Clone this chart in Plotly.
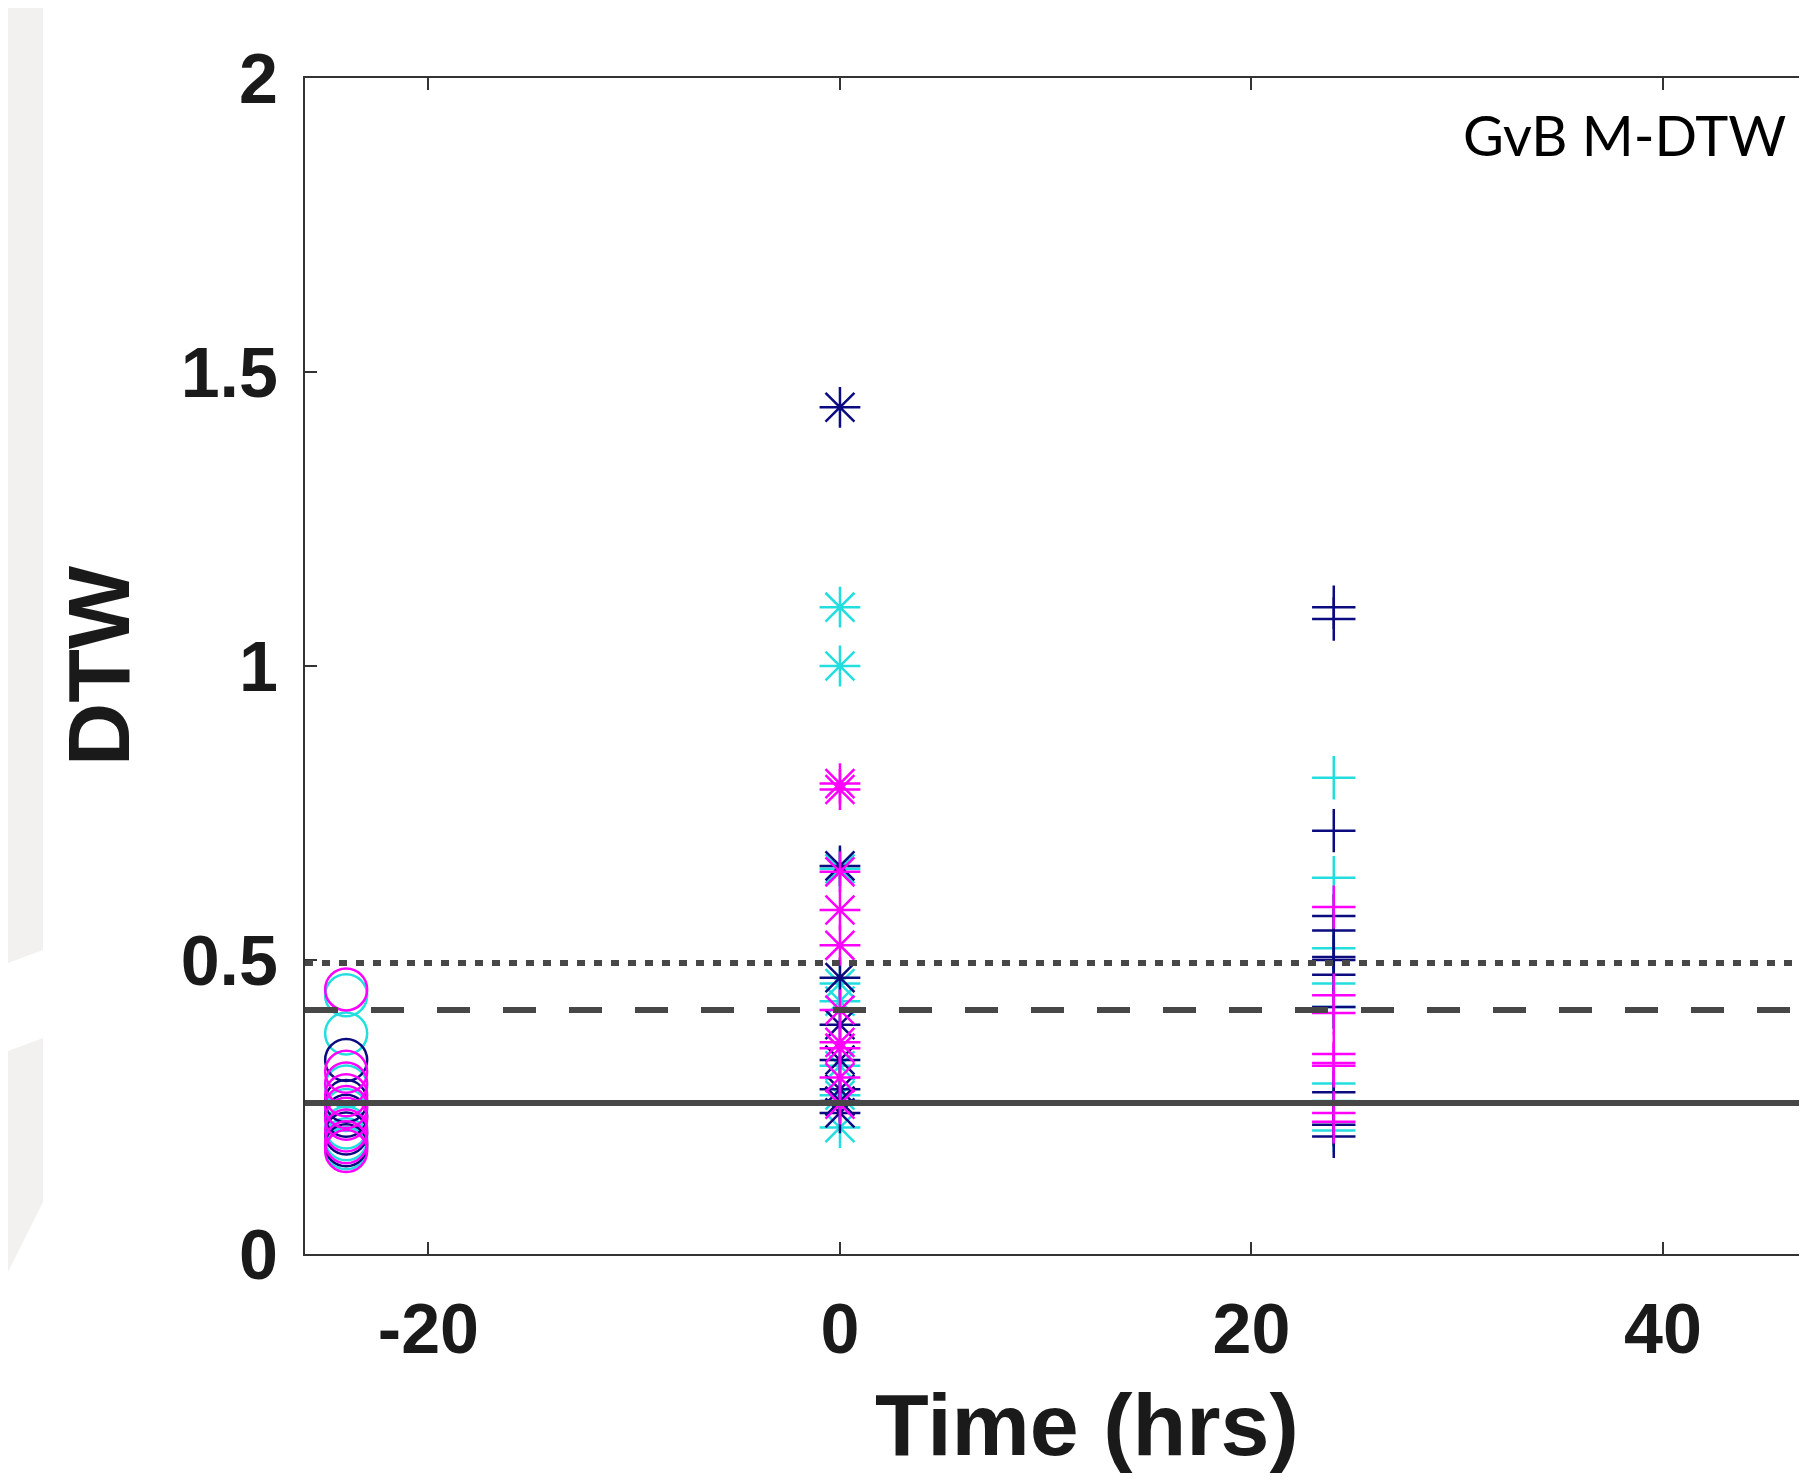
import plotly.graph_objects as go

# ---- data ----
time_points = [-24, 0, 24]          # hrs: baseline (circles), 0 h (stars), 24 h (pluses)

circ_magenta = [0.45, 0.31, 0.29, 0.27, 0.25, 0.23, 0.21, 0.19, 0.175]
circ_cyan    = [0.44, 0.375, 0.285, 0.245, 0.215, 0.195, 0.18]
circ_navy    = [0.33, 0.26, 0.235, 0.205, 0.185]

star_cyan    = [1.10, 1.00, 0.655, 0.46, 0.43, 0.32, 0.27, 0.215]
star_navy    = [1.44, 0.66, 0.47, 0.39, 0.33, 0.28, 0.26, 0.24]
star_magenta = [0.80, 0.79, 0.65, 0.585, 0.525, 0.415, 0.36, 0.35, 0.30, 0.255]

plus_cyan    = [0.81, 0.64, 0.52, 0.46, 0.42, 0.29, 0.26, 0.21]
plus_navy    = [1.10, 1.08, 0.72, 0.575, 0.55, 0.505, 0.50, 0.475, 0.42, 0.275, 0.255, 0.22, 0.20]
plus_magenta = [0.59, 0.44, 0.41, 0.34, 0.325, 0.32, 0.24, 0.225]

threshold_dotted = 0.495
threshold_dashed = 0.415
threshold_solid = 0.257

x_ticks = [-20, 0, 20, 40]
y_ticks = [0, 0.5, 1, 1.5, 2]
y_tick_text = ["0", "0.5", "1", "1.5", "2"]

MAGENTA = "#ff00ff"
CYAN = "#22dede"
NAVY = "#0b0b80"

fig = go.Figure()

def add_group(x, values, color, symbol, size):
    fig.add_trace(go.Scatter(
        x=[x] * len(values), y=values, mode="markers",
        marker=dict(symbol=symbol, size=size, color=color,
                    line=dict(color=color, width=2.5)),
        showlegend=False, hoverinfo="y"))

add_group(time_points[0], circ_cyan, CYAN, "circle-open", 42)
add_group(time_points[0], circ_navy, NAVY, "circle-open", 42)
add_group(time_points[0], circ_magenta, MAGENTA, "circle-open", 42)

add_group(time_points[1], star_cyan, CYAN, "asterisk-open", 34)
add_group(time_points[1], star_navy, NAVY, "asterisk-open", 34)
add_group(time_points[1], star_magenta, MAGENTA, "asterisk-open", 34)

add_group(time_points[2], plus_cyan, CYAN, "cross-thin-open", 31)
add_group(time_points[2], plus_navy, NAVY, "cross-thin-open", 31)
add_group(time_points[2], plus_magenta, MAGENTA, "cross-thin-open", 31)

# ---- layout geometry (pixels); the page body adds an 8px offset ----
OFF = 8
W, H = 1807 - OFF, 1479 - OFF
ML, MT = 305 - OFF, 78 - OFF
PLOT_BOTTOM = 1254 - OFF
MR, MB = 0, H - PLOT_BOTTOM
pw = W - ML - MR
ph = H - MT - MB

def px_x(px):   # screen pixel -> paper x
    return (px - OFF - ML) / pw

def px_y(py):   # screen pixel -> paper y
    return (PLOT_BOTTOM - (py - OFF)) / ph

LINE_COL = "#474747"
shapes = [
    dict(type="line", xref="paper", yref="y", x0=0, x1=1,
         y0=threshold_dotted, y1=threshold_dotted,
         line=dict(color=LINE_COL, width=6, dash="8px,9px")),
    dict(type="line", xref="paper", yref="y", x0=0, x1=1,
         y0=threshold_dashed, y1=threshold_dashed,
         line=dict(color=LINE_COL, width=6, dash="33px,33px")),
    dict(type="line", xref="paper", yref="y", x0=0, x1=1,
         y0=threshold_solid, y1=threshold_solid,
         line=dict(color=LINE_COL, width=6)),
]

# grey background band on the far left of the slide
band1 = [(OFF, OFF), (43, OFF), (43, 950), (OFF, 963)]
band2 = [(OFF, 1051), (43, 1038), (43, 1202), (OFF, 1272)]
for poly in (band1, band2):
    path = "M " + " L ".join(f"{px_x(a):.5f},{px_y(b):.5f}" for a, b in poly) + " Z"
    shapes.append(dict(type="path", xref="paper", yref="paper", path=path,
                       fillcolor="#f2f1ef", line=dict(width=0), layer="below"))

FAM = "Liberation Sans, Arial, sans-serif"
TICKFONT = dict(family=FAM, size=70, color="#1a1a1a", weight="bold")
TITLEFONT = dict(family=FAM, size=88, color="#1a1a1a", weight="bold")

fig.update_layout(
    width=W, height=H,
    margin=dict(l=ML, r=MR, t=MT, b=MB, pad=0),
    paper_bgcolor="white", plot_bgcolor="white",
    shapes=shapes,
    xaxis=dict(range=[-26, 47], tickvals=x_ticks, ticktext=[str(v) for v in x_ticks],
               ticks="inside", ticklen=12, tickwidth=2, tickcolor="#333",
               showline=True, linecolor="#333", linewidth=2, mirror="ticks",
               showgrid=False, zeroline=False, tickfont=TICKFONT,
               ticklabelstandoff=13),
    yaxis=dict(range=[0, 2], tickvals=y_ticks, ticktext=y_tick_text,
               ticks="inside", ticklen=12, tickwidth=2, tickcolor="#333",
               showline=True, linecolor="#333", linewidth=2, mirror=False,
               showgrid=False, zeroline=False, tickfont=TICKFONT,
               ticklabelstandoff=11,
               title=dict(text="DTW", font=TITLEFONT, standoff=22)),
    annotations=[
        dict(text="GvB M-DTW", xref="paper", yref="paper",
             x=px_x(1461), y=px_y(135), xanchor="left", yanchor="middle",
             showarrow=False,
             font=dict(family="Lato, Open Sans, sans-serif", size=56, color="black")),
        dict(text="Time (hrs)", xref="paper", yref="paper",
             x=px_x(1087), y=px_y(1476), xanchor="center", yanchor="bottom",
             showarrow=False, font=TITLEFONT),
    ],
)

fig.write_html("out.html")
